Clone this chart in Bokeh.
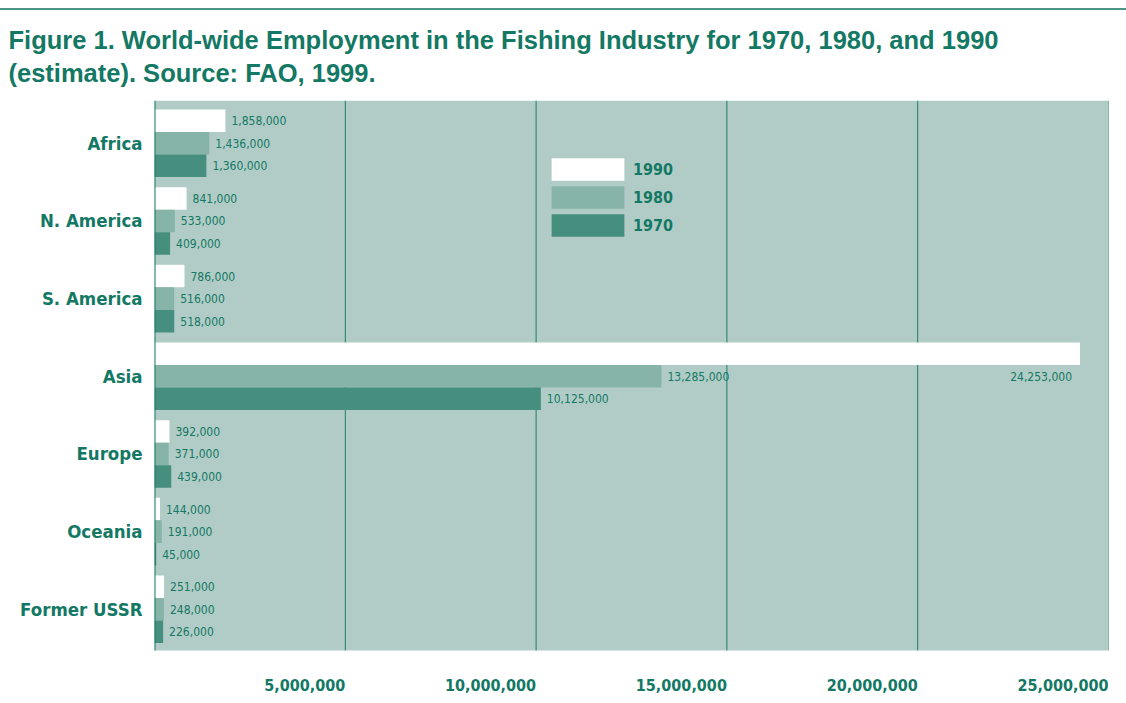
from bokeh.plotting import figure
from bokeh.models import Range1d, FixedTicker, Title, Div
from bokeh.layouts import column
from bokeh.core.properties import value
from bokeh.embed import file_html
from bokeh.resources import INLINE

# ---------------- data ----------------
regions = ["Africa", "N. America", "S. America", "Asia", "Europe", "Oceania", "Former USSR"]
years = ["1990", "1980", "1970"]
emp_1990 = [1858000, 841000, 786000, 24253000, 392000, 144000, 251000]
emp_1980 = [1436000, 533000, 516000, 13285000, 371000, 191000, 248000]
emp_1970 = [1360000, 409000, 518000, 10125000, 439000, 45000, 226000]
x_ticks = [5000000, 10000000, 15000000, 20000000, 25000000]
x_tick_labels = ["5,000,000", "10,000,000", "15,000,000", "20,000,000", "25,000,000"]
title_line1 = "Figure 1.  World-wide Employment in the Fishing Industry for 1970, 1980, and 1990"
title_line2 = "(estimate).  Source: FAO, 1999."

# ---------------- style / layout ----------------
TEAL = "#137864"
BG = "#b1ccc6"
GRID = "#1f7d6a"
COLORS = {"1990": "#ffffff", "1980": "#86b4a8", "1970": "#468e7e"}
NARROW = "DejaVu Sans Condensed"
BAR_H = 0.29
INSIDE_THRESHOLD = 20000000
X_MAX = 25000000
Y_TOP = -0.551          # top of plotting area
Y_PLOT_BOTTOM = 6.53    # bottom of the shaded plotting area
Y_FRAME_BOTTOM = 7.11   # frame extends below to hold the value-axis labels
FRAME_W, FRAME_H = 954, 595

rule = Div(width=1126, height=2, margin=(8, 0, 0, 0),
           styles={"background-color": "#4a9585"})

p = figure(frame_width=FRAME_W, frame_height=FRAME_H, output_backend="svg",
           toolbar_location=None,
           x_range=Range1d(0, X_MAX), y_range=Range1d(Y_FRAME_BOTTOM, Y_TOP),
           min_border_left=154, min_border_right=10, min_border_top=90,
           min_border_bottom=0, title=None)
p.background_fill_color = "white"
p.border_fill_color = "white"
p.outline_line_color = None
p.xgrid.visible = False
p.ygrid.visible = False

# shaded plotting area
p.quad(left=0, right=X_MAX, top=Y_TOP, bottom=Y_PLOT_BOTTOM, fill_color=BG, line_color=None)
# vertical grid lines
p.segment(x0=x_ticks, x1=x_ticks, y0=[Y_TOP] * len(x_ticks), y1=[Y_PLOT_BOTTOM] * len(x_ticks),
          line_color=GRID, line_width=1)

idx = list(range(len(regions)))
series = {"1990": emp_1990, "1980": emp_1980, "1970": emp_1970}
offsets = {"1990": -BAR_H, "1980": 0.0, "1970": BAR_H}

for yr in years:
    ys = [i + offsets[yr] for i in idx]
    vals = series[yr]
    p.hbar(y=ys, right=vals, left=0, height=BAR_H, fill_color=COLORS[yr],
           line_color=None, legend_label=yr)
    out_x, out_y, out_t = [], [], []
    in_x, in_y, in_t = [], [], []
    for yy, v in zip(ys, vals):
        if v > INSIDE_THRESHOLD:
            in_x.append(v); in_y.append(yy + BAR_H); in_t.append(f"{v:,}")
        else:
            out_x.append(v); out_y.append(yy); out_t.append(f"{v:,}")
    p.text(x=out_x, y=out_y, text=out_t, x_offset=6, text_align="left",
           text_baseline="middle", text_font=value(NARROW), text_font_size="12px",
           text_color=TEAL)
    if in_x:
        p.text(x=in_x, y=in_y, text=in_t, x_offset=-8, text_align="right",
               text_baseline="middle", text_font=value(NARROW), text_font_size="12px",
               text_color=TEAL)

# left axis line (only along the shaded area)
p.segment(x0=[0], x1=[0], y0=[Y_TOP], y1=[Y_PLOT_BOTTOM], line_color=TEAL, line_width=2)

# value-axis labels, right-aligned to their grid lines
p.text(x=x_ticks, y=[Y_PLOT_BOTTOM] * len(x_ticks), text=x_tick_labels, y_offset=35,
       text_align="right", text_baseline="middle", text_font=value(NARROW),
       text_font_style="bold", text_font_size="16px", text_color=TEAL)

p.xaxis.visible = False

# category axis
p.yaxis.ticker = FixedTicker(ticks=idx)
p.yaxis.major_label_overrides = {i: r for i, r in zip(idx, regions)}
p.yaxis.axis_line_color = None
p.yaxis.major_tick_line_color = None
p.yaxis.minor_tick_line_color = None
p.yaxis.major_tick_out = 0
p.yaxis.major_label_standoff = 12
p.yaxis.major_label_text_font = NARROW
p.yaxis.major_label_text_font_style = "bold"
p.yaxis.major_label_text_font_size = "18.5px"
p.yaxis.major_label_text_color = TEAL

# legend
GLYPH_H = 28
lg = p.legend[0]
lg.location = (388, FRAME_H - 55 - 3 * GLYPH_H)
lg.padding = 0
lg.margin = 0
lg.spacing = 0
lg.glyph_width = 91
lg.glyph_height = GLYPH_H
lg.label_height = GLYPH_H
lg.label_standoff = 0
lg.label_text_font = NARROW
lg.label_text_font_style = "bold"
lg.label_text_font_size = "16px"
lg.label_text_color = TEAL
lg.label_text_baseline = "middle"
lg.background_fill_alpha = 0
lg.border_line_color = None

# two-line title
title = Title(text=title_line1 + "\n" + title_line2, align="left", offset=-146,
              standoff=26, text_line_height=1.2,
              text_font="Liberation Sans", text_font_style="bold",
              text_font_size="25.5px", text_color=TEAL)
p.add_layout(title, "above")

layout = column(rule, p, spacing=0)
open("out.html", "w").write(file_html(layout, INLINE))
